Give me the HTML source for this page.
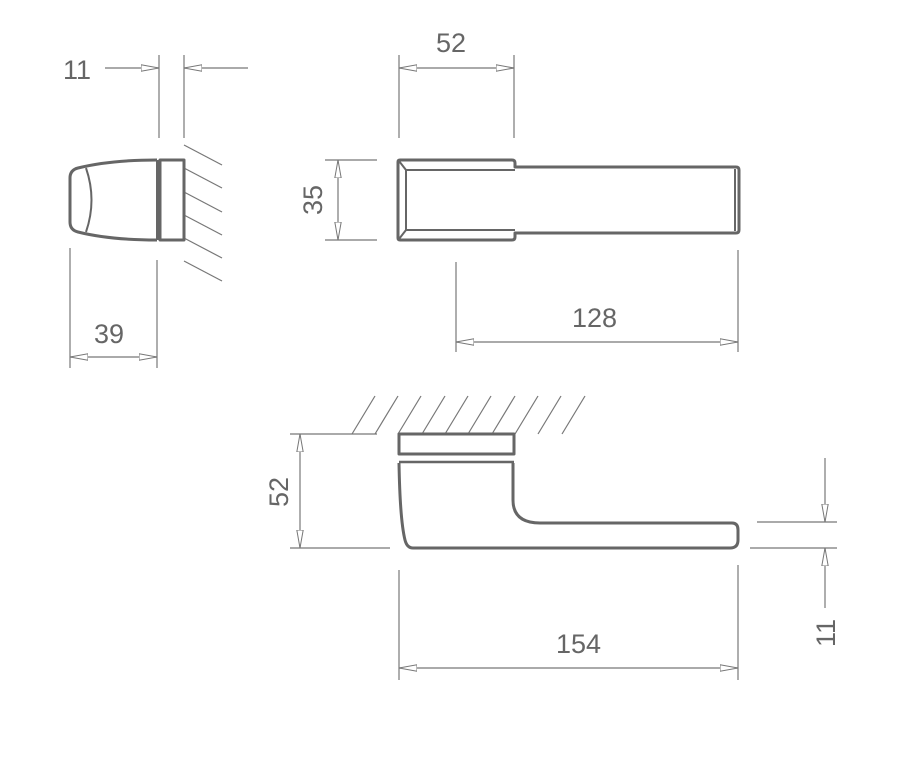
<!DOCTYPE html>
<html><head><meta charset="utf-8"><style>html,body{margin:0;padding:0;background:#fff}svg{display:block}</style></head>
<body>
<svg width="922" height="762" viewBox="0 0 922 762" xmlns="http://www.w3.org/2000/svg" font-family="Liberation Sans, sans-serif">
<defs>
<marker id="a" viewBox="0 0 18 8" refX="18" refY="4" markerWidth="18" markerHeight="8" markerUnits="userSpaceOnUse" orient="auto-start-reverse">
<path d="M0,0.8 L18,4 L0,7.2 Z" fill="#fff" stroke="#777" stroke-width="1"/>
</marker>
</defs>
<g stroke="#777" stroke-width="1.2" fill="none">
<line x1="159" y1="55" x2="159" y2="138"/>
<line x1="184" y1="55" x2="184" y2="138"/>
<line x1="105" y1="68" x2="159" y2="68" marker-end="url(#a)"/>
<line x1="248" y1="68" x2="184" y2="68" marker-end="url(#a)"/>
<line x1="70" y1="248" x2="70" y2="368"/>
<line x1="157" y1="260" x2="157" y2="368"/>
<line x1="70" y1="357" x2="157" y2="357" marker-start="url(#a)" marker-end="url(#a)"/>
<line x1="184" y1="145" x2="222" y2="165"/>
<line x1="184" y1="168" x2="222" y2="188"/>
<line x1="184" y1="192" x2="222" y2="212"/>
<line x1="184" y1="215" x2="222" y2="235"/>
<line x1="184" y1="238" x2="222" y2="258"/>
<line x1="184" y1="261" x2="222" y2="281"/>
<line x1="399" y1="55" x2="399" y2="138"/>
<line x1="514" y1="55" x2="514" y2="138"/>
<line x1="399" y1="68" x2="514" y2="68" marker-start="url(#a)" marker-end="url(#a)"/>
<line x1="325" y1="160" x2="377" y2="160"/>
<line x1="325" y1="240" x2="377" y2="240"/>
<line x1="338" y1="160" x2="338" y2="240" marker-start="url(#a)" marker-end="url(#a)"/>
<line x1="456" y1="262" x2="456" y2="352"/>
<line x1="738" y1="250" x2="738" y2="352"/>
<line x1="456" y1="342" x2="738" y2="342" marker-start="url(#a)" marker-end="url(#a)"/>
<line x1="290" y1="434" x2="377" y2="434"/>
<line x1="352" y1="434" x2="375" y2="396"/>
<line x1="375" y1="434" x2="398" y2="396"/>
<line x1="398" y1="434" x2="421" y2="396"/>
<line x1="422" y1="434" x2="445" y2="396"/>
<line x1="445" y1="434" x2="468" y2="396"/>
<line x1="468" y1="434" x2="491" y2="396"/>
<line x1="492" y1="434" x2="515" y2="396"/>
<line x1="515" y1="434" x2="538" y2="396"/>
<line x1="538" y1="434" x2="561" y2="396"/>
<line x1="562" y1="434" x2="585" y2="396"/>
<line x1="290" y1="548" x2="390" y2="548"/>
<line x1="300" y1="434" x2="300" y2="548" marker-start="url(#a)" marker-end="url(#a)"/>
<line x1="399" y1="570" x2="399" y2="680"/>
<line x1="738" y1="565" x2="738" y2="680"/>
<line x1="399" y1="668" x2="738" y2="668" marker-start="url(#a)" marker-end="url(#a)"/>
<line x1="757" y1="522" x2="837" y2="522"/>
<line x1="750" y1="548" x2="837" y2="548"/>
<line x1="825" y1="458" x2="825" y2="522" marker-end="url(#a)"/>
<line x1="825" y1="608" x2="825" y2="548" marker-end="url(#a)"/>
</g>
<g fill="#666" font-size="27">
<text x="63" y="79">11</text>
<text x="94" y="343">39</text>
<text x="436" y="52">52</text>
<text x="572" y="327">128</text>
<text x="556" y="653">154</text>
<text transform="translate(322,200) rotate(-90)" text-anchor="middle">35</text>
<text transform="translate(288,492) rotate(-90)" text-anchor="middle">52</text>
<text transform="translate(835,633) rotate(-90)" text-anchor="middle">11</text>
</g>
<g stroke="#666" stroke-width="3" fill="none" stroke-linejoin="round">
<path d="M157,160 Q110,160 78,168 Q70,170 70,178 L70,222 Q70,230 78,232 Q110,240 157,240"/>
<path d="M86,168 Q97,200 86,232" stroke-width="2"/>
<line x1="158" y1="160" x2="158" y2="240" stroke-width="4"/>
<rect x="160" y="160" width="24" height="80"/>
<path d="M400,160 L512,160 Q515,160 515,163 L515,167 L736,167 Q739,167 739,170 L739,230 Q739,233 736,233 L515,233 L515,237 Q515,240 512,240 L400,240 Q398,240 398,238 L398,162 Q398,160 400,160 Z"/>
<path d="M406,170 L515,170 M406,230 L515,230 M406,170 L406,230 M399,161 L406,170 M399,239 L406,230 M735,169 L735,231" stroke-width="2"/>
<rect x="399" y="434" width="115" height="20"/>
<line x1="399" y1="462" x2="514" y2="462" stroke-width="2.5"/>
<path d="M399,463 Q400,520 405,540 Q407,548 413,548 L730,548 Q738,548 738,540 L738,530 Q738,523 732,523 L540,523 Q513,523 513,500 L513,463"/>
</g>
</svg>
</body></html>
